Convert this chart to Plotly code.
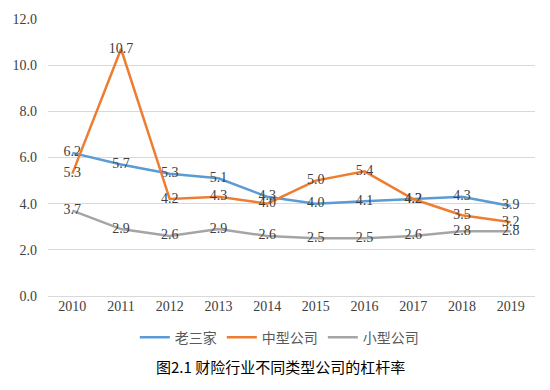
import plotly.graph_objects as go

years = ["2010", "2011", "2012", "2013", "2014", "2015", "2016", "2017", "2018", "2019"]
big3 = [6.2, 5.7, 5.3, 5.1, 4.3, 4.0, 4.1, 4.2, 4.3, 3.9]
mid = [5.3, 10.7, 4.2, 4.3, 4.0, 5.0, 5.4, 4.2, 3.5, 3.2]
small = [3.7, 2.9, 2.6, 2.9, 2.6, 2.5, 2.5, 2.6, 2.8, 2.8]
series_names = ["老三家", "中型公司", "小型公司"]
colors = ["#5B9BD5", "#ED7D31", "#A5A5A5"]

SERIF = "'Liberation Serif', 'Times New Roman', 'DejaVu Serif', serif"
CJK = "'Noto Sans CJK SC', sans-serif"

fig = go.Figure()
for name, vals, c in zip(series_names, [big3, mid, small], colors):
    fig.add_trace(go.Scatter(
        x=years, y=vals, name=name, mode="lines+text",
        line=dict(color=c, width=2.5),
        text=[f"{v:.1f}" for v in vals], textposition="middle center",
        textfont=dict(family=SERIF, size=14, color="#404040"),
        cliponaxis=False,
    ))

fig.update_layout(
    width=550, height=390,
    margin=dict(l=48, r=15, t=19, b=94, autoexpand=False),
    paper_bgcolor="white", plot_bgcolor="white",
    showlegend=True,
    legend=dict(orientation="h", x=0.475, xanchor="center", y=-0.15, yanchor="middle",
                font=dict(family=CJK, size=14, color="#595959"),
                itemwidth=30, tracegroupgap=0),
    xaxis=dict(type="category", range=[-0.5, 9.5], showgrid=False, showline=False, zeroline=False,
               ticks="", tickfont=dict(family=SERIF, size=14, color="#404040")),
    yaxis=dict(range=[0, 12], dtick=2, tickformat=".1f", showgrid=True, gridcolor="#D9D9D9", gridwidth=1,
               zeroline=True, zerolinecolor="#D9D9D9", zerolinewidth=1, showline=False, ticks="",
               ticklabelstandoff=10,
               tickfont=dict(family=SERIF, size=14, color="#404040")),
    annotations=[dict(text="图2.1 财险行业不同类型公司的杠杆率", xref="paper", yref="paper",
                      x=0.478, y=-0.255, xanchor="center", yanchor="middle", showarrow=False,
                      font=dict(family=CJK, size=15, color="#000000"))],
)

fig.write_html("out.html", post_script="document.body.style.margin='0';",
               config={"displayModeBar": False})
